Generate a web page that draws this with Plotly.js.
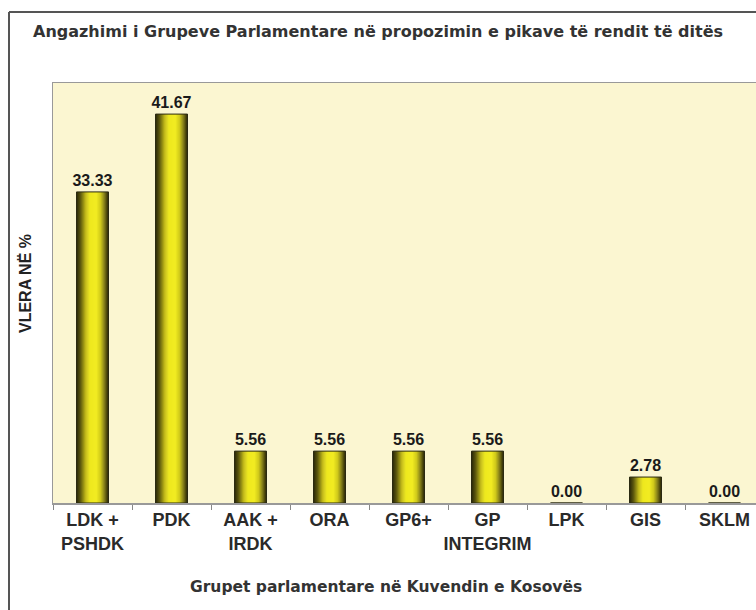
<!DOCTYPE html>
<html><head><meta charset="utf-8">
<script src="https://cdn.plot.ly/plotly-3.0.1.min.js"></script>
<style>html,body{margin:0;padding:0;overflow:hidden;background:#fff;width:756px;height:610px}#chart{width:768px;height:610px}</style>
</head><body><div id="chart"></div>
<script>
const categories = ['LDK +<br>PSHDK','PDK','AAK +<br>IRDK','ORA','GP6+','GP<br>INTEGRIM','LPK','GIS','SKLM'];
const values = [33.33, 41.67, 5.56, 5.56, 5.56, 5.56, 0.00, 2.78, 0.00];
const chartTitle = 'Angazhimi i Grupeve Parlamentare në propozimin e pikave të rendit të ditës';
const xTitle = 'Grupet parlamentare në Kuvendin e Kosovës';
const yTitle = 'VLERA NË %';

// styling
const W = 0.405, N = 30;
const stops = [[0,[40,38,8]],[0.12,[90,86,14]],[0.28,[190,182,24]],[0.42,[238,232,30]],[0.62,[242,236,34]],[0.76,[205,198,26]],[0.9,[110,104,16]],[1,[38,36,8]]];
function grad(t){
  for(let k=0;k<stops.length-1;k++){
    const a=stops[k], b=stops[k+1];
    if(t>=a[0] && t<=b[0]){
      const f=(t-a[0])/(b[0]-a[0]);
      const c=a[1].map((v,j)=>Math.round(v+(b[1][j]-v)*f));
      return 'rgb('+c.join(',')+')';
    }
  }
  return 'rgb('+stops[stops.length-1][1].join(',')+')';
}
const traces = [];
for(let i=0;i<N;i++){
  const off = -W/2 + i*W/N;
  const w = Math.min(W/N*1.6, W/2 - off);
  traces.push({type:'bar', x:categories, y:values, width:w, offset:off,
    marker:{color:grad((i+0.5)/N), line:{width:0}}, hoverinfo:'skip'});
}
traces.push({type:'bar', x:categories, y:values, width:W, offset:-W/2,
  marker:{color:'rgba(0,0,0,0)', line:{color:'#2b2a12', width:1}},
  texttemplate:'%{y:.2f}', textposition:'outside', cliponaxis:false, constraintext:'none',
  textfont:{family:'"Liberation Sans", Arial, sans-serif', size:16, weight:'bold', color:'#1a1a1a'},
  hoverinfo:'skip'});

const L=53, T=83, PW=711, PH=420;
const px=(v)=>(v-L)/PW, py=(v)=>(T+PH-v)/PH;
const titleFont={family:'"DejaVu Sans", Verdana, sans-serif', size:15.5, weight:'bold', color:'#333'};

const layout = {
  width:768, height:610,
  margin:{l:L, r:768-L-PW, t:T, b:610-T-PH},
  paper_bgcolor:'#ffffff', plot_bgcolor:'#fbf6d1',
  showlegend:false, barmode:'overlay',
  xaxis:{type:'category', tickson:'boundaries', ticks:'outside', ticklen:5, tickcolor:'#888', tickwidth:1,
    tickangle:0, automargin:false,
    showline:true, linecolor:'#999', linewidth:1.5, mirror:true, showgrid:false, fixedrange:true,
    tickfont:{family:'"Liberation Sans", Arial, sans-serif', size:18, weight:'bold', color:'#2a2a2a'}},
  yaxis:{range:[0,45], showticklabels:false, ticks:'', showgrid:false, zeroline:false,
    showline:true, linecolor:'#999', linewidth:1.5, mirror:true, fixedrange:true},
  annotations:[
    {text:chartTitle, xref:'paper', yref:'paper', x:px(377.5), y:py(31), xanchor:'center', yanchor:'middle', showarrow:false,
      font:Object.assign({}, titleFont, {size:16})},
    {text:xTitle, xref:'paper', yref:'paper', x:px(386), y:py(587), xanchor:'center', yanchor:'middle', showarrow:false, font:titleFont},
    {text:yTitle, xref:'paper', yref:'paper', x:px(25), y:py(284), xanchor:'center', yanchor:'middle', textangle:-90, showarrow:false,
      font:{family:'"Liberation Sans", Arial, sans-serif', size:16, weight:'bold', color:'#222'}}
  ],
  shapes:[
    {type:'line', xref:'paper', yref:'paper', x0:px(9), x1:px(800), y0:py(12), y1:py(12), line:{color:'#555', width:2}},
    {type:'line', xref:'paper', yref:'paper', x0:px(9), x1:px(9), y0:py(12), y1:py(640), line:{color:'#555', width:2}}
  ]
};
Plotly.newPlot('chart', traces, layout, {staticPlot:true, displayModeBar:false});
</script></body></html>
